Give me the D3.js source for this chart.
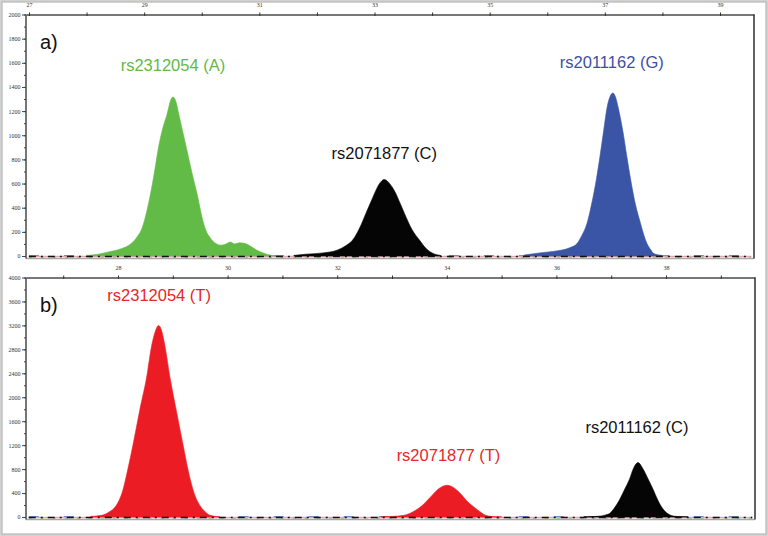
<!DOCTYPE html>
<html><head><meta charset="utf-8">
<script src="https://cdn.jsdelivr.net/npm/d3@7"></script>
<style>body{margin:0;background:#fff}svg{display:block}</style>
</head><body>
<script>
// ---- Data ----
// Panel a (upper) tick values
const aXTicks = [27,28,29,30,31,32,33,34,35,36,37,38,39];
const aXLabels = [27,29,31,33,35,37,39];
const aYTicks = [0,200,400,600,800,1000,1200,1400,1600,1800,2000];
// Panel b (lower) tick values
const bXTicks = [27,28,29,30,31,32,33,34,35,36,37,38,39];
const bXLabels = [28,30,32,34,36,38];
const bYTicks = [0,400,800,1200,1600,2000,2400,2800,3200,3600,4000];

// Peak traces: time (min) and intensity
const aGreenT = [28.00,28.20,28.40,28.60,28.78,28.88,28.95,29.03,29.10,29.18,29.25,29.33,29.40,29.46,29.50,29.55,29.60,29.66,29.73,29.83,29.93,30.00,30.07,30.15,30.24,30.32,30.40,30.50,30.57,30.65,30.74,30.85,30.95,31.07,31.18,31.30];
const aGreenV = [5,15,36,60,105,160,215,340,490,700,903,1070,1179,1290,1317,1280,1179,1050,903,690,490,330,215,150,105,90,95,115,100,110,105,80,50,25,8,0];
const aBlackT = [31.60,31.81,32.10,32.36,32.50,32.62,32.75,32.85,32.93,33.00,33.08,33.17,33.27,33.37,33.45,33.52,33.65,33.78,33.90,34.00,34.15];
const aBlackV = [5,15,25,50,85,132,240,353,440,518,595,634,595,518,430,353,220,132,60,25,5];
const aBlueT = [35.60,35.86,36.10,36.26,36.40,36.52,36.60,36.69,36.77,36.85,36.92,36.98,37.04,37.09,37.14,37.19,37.23,37.31,37.38,37.45,37.53,37.62,37.68,37.73,37.80,37.85,37.99];
const aBlueV = [8,25,38,50,70,105,170,270,430,628,840,1041,1234,1320,1350,1310,1234,1041,830,628,430,270,170,105,50,20,5];

const bRed1T = [27.50,27.70,27.85,27.95,28.09,28.18,28.27,28.40,28.52,28.62,28.68,28.74,28.80,28.85,28.95,29.07,29.19,29.28,29.37,29.51,29.60,29.68,29.85];
const bRed1V = [10,28,90,170,453,800,1189,1800,2322,2889,3100,3200,3100,2889,2322,1750,1189,780,453,170,80,28,5];
const bRed2T = [32.80,33.01,33.22,33.43,33.55,33.65,33.75,33.85,33.93,34.00,34.08,34.17,34.27,34.35,34.46,34.57,34.71,34.81,35.00];
const bRed2V = [5,10,28,113,190,283,380,470,515,530,515,460,370,283,190,113,28,10,3];
const bBlackT = [36.50,36.76,36.90,36.97,37.05,37.15,37.25,37.33,37.41,37.49,37.57,37.68,37.76,37.85,37.94,38.03,38.17,38.40];
const bBlackV = [3,11,35,57,140,283,470,623,820,910,820,623,470,283,140,57,11,3];

const labelsA = ["rs2312054 (A)","rs2071877 (C)","rs2011162 (G)"];
const labelsB = ["rs2312054 (T)","rs2071877 (T)","rs2011162 (C)"];

// ---- Drawing ----
const W = 768, H = 536;
const svg = d3.select("body").append("svg").attr("width", W).attr("height", H);
svg.append("rect").attr("x",1.5).attr("y",1.5).attr("width",W-3).attr("height",H-3)
  .attr("fill","#fff").attr("stroke","#c4c4c4").attr("stroke-width",2.5);

function zip(t,v){ return t.map((d,i)=>({t:d,v:v[i]})); }

function panel(cfg){
  const x = d3.scaleLinear().domain(cfg.xDomain).range([cfg.left, cfg.right]);
  const y = d3.scaleLinear().domain(cfg.yDomain).range([cfg.bottom, cfg.top]);
  const g = svg.append("g");
  const area = d3.area().x(d=>x(d.t)).y0(y(0)).y1(d=>y(d.v)).curve(d3.curveMonotoneX);

  // bottom frame
  g.append("line").attr("x1",cfg.left).attr("x2",cfg.right)
    .attr("y1",cfg.bottom+2.5).attr("y2",cfg.bottom+2.5).attr("stroke","#a8a8a8").attr("stroke-width",1.5);

  // baseline noise traces
  const base = [cfg.xDomain[0]+0.05, cfg.xDomain[1]-0.05];
  const baseLine = d3.line().x(d=>x(d)).y(()=>y(0)+0.5);
  g.append("path").attr("d",baseLine(base)).attr("stroke","#e7a3b4").attr("stroke-width",1.6).attr("fill","none");
  g.append("path").attr("d",baseLine(base)).attr("stroke","#9fc98a").attr("stroke-width",1).attr("fill","none").attr("stroke-dasharray","3,9").attr("transform","translate(0,1)");
  g.append("path").attr("d",baseLine(base)).attr("stroke","#8088c8").attr("stroke-width",1).attr("fill","none").attr("stroke-dasharray","10,25").attr("transform","translate(0,-1)");

  cfg.peaks.forEach(p=>{
    g.append("path").attr("d",area(p.data)).attr("fill",p.color).attr("stroke",p.color).attr("stroke-width",0.6);
  });
  g.append("path").attr("d",baseLine(base)).attr("stroke","#111").attr("stroke-width",1.4).attr("fill","none").attr("stroke-dasharray","7,5,2,5");

  // top axis
  const ax = d3.axisTop(x).tickValues(cfg.xTicks).tickSize(2.5).tickSizeOuter(0)
    .tickFormat(d=>cfg.xLabels.includes(d)?String(d):"");
  const gx = g.append("g").attr("transform",`translate(0,${cfg.top})`).call(ax);
  gx.select(".domain").attr("stroke","#4a4a4a").attr("stroke-width",1.6);
  gx.selectAll(".tick line").attr("stroke","#333").attr("y2",-2).attr("y1",1.5);
  gx.selectAll(".tick text").attr("font-family","Liberation Serif").attr("font-size",6).attr("fill","#333").attr("dy","-0.4em");

  // left axis
  const minor = d3.range(cfg.yDomain[0], cfg.yDomain[1]+1, cfg.yStep/2);
  const gyMinor = g.append("g").attr("transform",`translate(${cfg.left},0)`)
    .call(d3.axisLeft(y).tickValues(minor).tickSize(2).tickFormat(""));
  gyMinor.select(".domain").remove();
  gyMinor.selectAll(".tick line").attr("stroke","#444");
  const gy = g.append("g").attr("transform",`translate(${cfg.left},0)`)
    .call(d3.axisLeft(y).tickValues(cfg.yTicks).tickSize(4).tickSizeOuter(0).tickPadding(1.5).tickFormat(d=>String(d)));
  gy.select(".domain").attr("stroke","#4a4a4a").attr("stroke-width",1.5)
    .attr("d",`M0,${cfg.top}V${cfg.bottom+2.5}`);
  gy.selectAll(".tick line").attr("stroke","#444");
  gy.selectAll(".tick text").attr("font-family","Liberation Serif").attr("font-size",6).attr("fill","#333");

  // right frame
  g.append("line").attr("x1",cfg.right).attr("x2",cfg.right).attr("y1",cfg.top).attr("y2",cfg.bottom+2.5)
    .attr("stroke","#3a3a3a").attr("stroke-width",1.6);

  // panel letter
  g.append("text").attr("x",cfg.left+14).attr("y",cfg.top+34).text(cfg.letter)
    .attr("font-family","Liberation Sans").attr("font-size",20).attr("fill","#111");

  // peak labels
  cfg.labels.forEach(l=>{
    g.append("text").attr("x",x(l.t)).attr("y",y(l.v)).attr("text-anchor","middle")
      .attr("font-family","Liberation Sans").attr("font-size",16.5).attr("fill",l.color).text(l.text);
  });
}

const green="#62bb46", blue="#3b55a6", black="#050505", red="#ec1c24";

panel({
  left:26, right:754, top:14.5, bottom:256,
  xDomain:[26.948,39.59], yDomain:[0,2000], yStep:200,
  xTicks:aXTicks, xLabels:aXLabels, yTicks:aYTicks, letter:"a)",
  peaks:[
    {data:zip(aGreenT,aGreenV), color:green},
    {data:zip(aBlackT,aBlackV), color:black},
    {data:zip(aBlueT,aBlueV), color:blue}
  ],
  labels:[
    {text:labelsA[0], t:29.5, v:1530, color:"#63b848"},
    {text:labelsA[1], t:33.17, v:805, color:"#111"},
    {text:labelsA[2], t:37.12, v:1560, color:"#3e4fa3"}
  ]
});

panel({
  left:26, right:755, top:277.5, bottom:517,
  xDomain:[26.321,39.624], yDomain:[0,4000], yStep:400,
  xTicks:bXTicks, xLabels:bXLabels, yTicks:bYTicks, letter:"b)",
  peaks:[
    {data:zip(bRed1T,bRed1V), color:red},
    {data:zip(bRed2T,bRed2V), color:red},
    {data:zip(bBlackT,bBlackV), color:black}
  ],
  labels:[
    {text:labelsB[0], t:28.75, v:3600, color:"#e8262a"},
    {text:labelsB[1], t:34.03, v:930, color:"#e8262a"},
    {text:labelsB[2], t:37.47, v:1400, color:"#111"}
  ]
});
</script>
</body></html>
